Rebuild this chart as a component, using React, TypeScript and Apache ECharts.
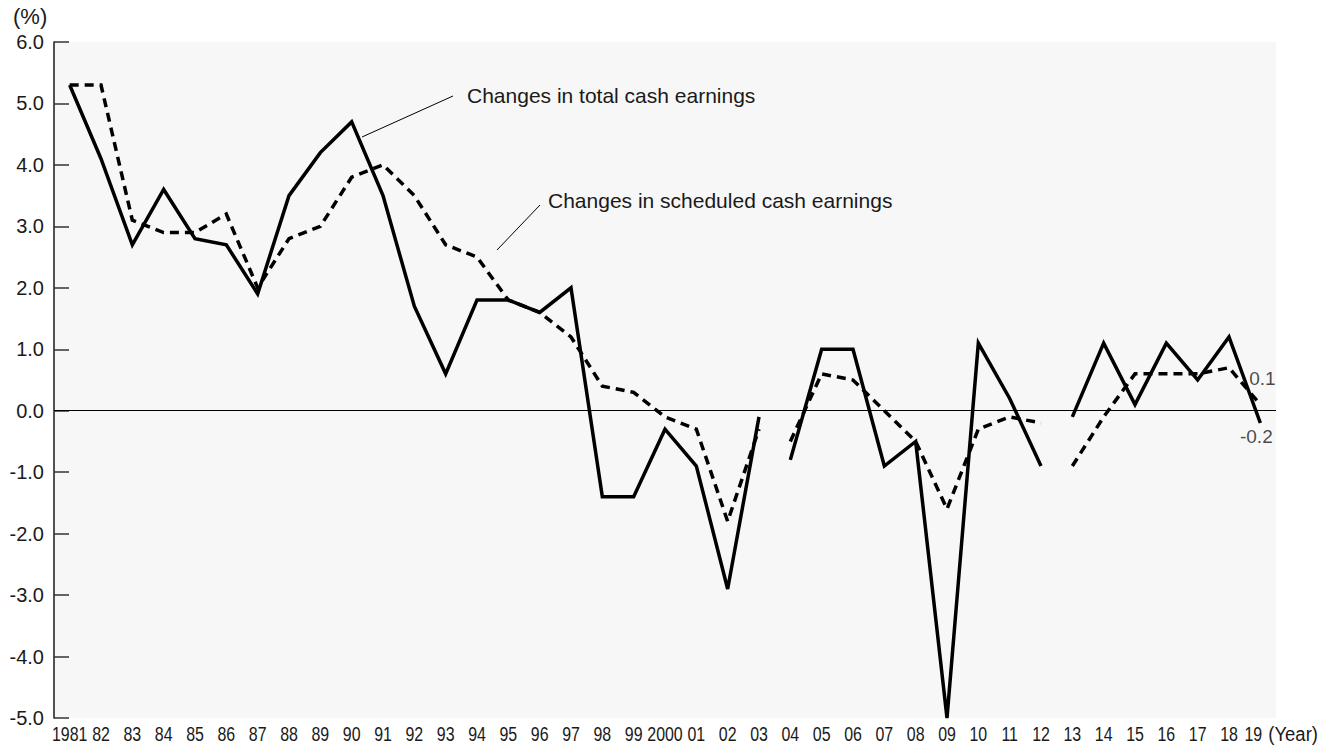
import React, { useEffect, useRef } from "react";
import * as echarts from "echarts";

// Category (tick) labels, 1981–2019
const years = [
  "1981", "82", "83", "84", "85", "86", "87", "88", "89", "90",
  "91", "92", "93", "94", "95", "96", "97", "98", "99", "2000",
  "01", "02", "03", "04", "05", "06", "07", "08", "09", "10",
  "11", "12", "13", "14", "15", "16", "17", "18", "19",
];

// Changes in total cash earnings (%)
const totalCashEarnings = [
  5.3, 4.1, 2.7, 3.6, 2.8, 2.7, 1.9, 3.5, 4.2, 4.7,
  3.5, 1.7, 0.6, 1.8, 1.8, 1.6, 2.0, -1.4, -1.4, -0.3,
  -0.9, -2.9, -0.1, -0.8, 1.0, 1.0, -0.9, -0.5, -5.0, 1.1,
  0.2, -0.9, -0.1, 1.1, 0.1, 1.1, 0.5, 1.2, -0.2,
];

// Changes in scheduled cash earnings (%)
const scheduledCashEarnings = [
  5.3, 5.3, 3.1, 2.9, 2.9, 3.2, 2.0, 2.8, 3.0, 3.8,
  4.0, 3.5, 2.7, 2.5, 1.8, 1.6, 1.2, 0.4, 0.3, -0.1,
  -0.3, -1.8, -0.3, -0.5, 0.6, 0.5, 0.0, -0.5, -1.6, -0.3,
  -0.1, -0.2, -0.9, -0.1, 0.6, 0.6, 0.6, 0.7, 0.1,
];

// The series are broken (not connected) after these years
const gapsAfter = ["03", "12"];

const yMin = -5;
const yMax = 6;
const yInterval = 1;

const TEXT = "#1a1a1a";
const SANS = "'Liberation Sans', Arial, Helvetica, sans-serif";
const NARROW_SCALE = 0.76;

function segmentRanges(): [number, number][] {
  const cuts = gapsAfter.map((g) => years.indexOf(g));
  const ranges: [number, number][] = [];
  let start = 0;
  cuts.forEach((c) => {
    ranges.push([start, c]);
    start = c + 1;
  });
  ranges.push([start, years.length - 1]);
  return ranges;
}

function buildSegments(values: number[], name: string, dashed: boolean) {
  return segmentRanges().map(([a, b], idx) => ({
    name: name,
    id: name + "-" + idx,
    type: "line",
    data: values.map((v, i) => (i >= a && i <= b ? v : "-")),
    showSymbol: false,
    symbol: "none",
    connectNulls: false,
    z: dashed ? 3 : 4,
    lineStyle: {
      color: "#000",
      width: 3.5,
      type: dashed ? [9, 6] : "solid",
      join: "miter",
      cap: "butt",
    },
    emphasis: { disabled: true },
  }));
}

export default function App() {
  const ref = useRef<HTMLDivElement>(null);

  useEffect(() => {
    if (!ref.current) return;
    const chart = echarts.init(ref.current, undefined, { renderer: "svg" });
    const last = years.length - 1;

    const option: any = {
      animation: false,
      grid: {
        left: 54,
        right: 62,
        top: 42,
        bottom: 28,
        show: true,
        backgroundColor: "#f7f7f7",
        borderWidth: 0,
      },
      xAxis: {
        type: "category",
        data: years,
        boundaryGap: true,
        axisLine: { show: false },
        axisTick: { show: false },
        splitLine: { show: false },
        axisLabel: { show: false },
      },
      yAxis: {
        type: "value",
        min: yMin,
        max: yMax,
        interval: yInterval,
        axisLine: { show: true, lineStyle: { color: TEXT, width: 1.5 } },
        axisTick: { show: true, inside: true, length: 15, lineStyle: { color: "#333", width: 1.5 } },
        splitLine: { show: false },
        axisLabel: {
          formatter: (v: number) => v.toFixed(1),
          fontFamily: SANS,
          fontSize: 20,
          color: TEXT,
          margin: 10,
        },
      },
      series: [
        {
          type: "line",
          data: [],
          silent: true,
          markLine: {
            silent: true,
            symbol: "none",
            label: { show: false },
            lineStyle: { color: "#000", width: 1, type: "solid" },
            data: [{ yAxis: 0 }],
          },
        },
        ...buildSegments(scheduledCashEarnings, "Changes in scheduled cash earnings", true),
        ...buildSegments(totalCashEarnings, "Changes in total cash earnings", false),
        {
          // condensed category labels, placed through the category scale
          type: "custom",
          silent: true,
          clip: false,
          data: years.map((_, i) => [i, yMin]),
          renderItem: (params: any, api: any) => {
            const i = api.value(0);
            const pt = api.coord([i, yMin]);
            const isLast = i === years.length - 1;
            const children: any[] = [
              {
                type: "text",
                x: pt[0] - (isLast ? 7 : 0),
                y: pt[1] + 16,
                scaleX: NARROW_SCALE,
                style: {
                  text: years[i],
                  font: "21px " + SANS,
                  fill: TEXT,
                  align: "center",
                  verticalAlign: "middle",
                },
              },
            ];
            if (isLast) {
              children.push({
                type: "text",
                x: pt[0] + 8,
                y: pt[1] + 16,
                scaleX: 0.88,
                style: {
                  text: "(Year)",
                  font: "21px " + SANS,
                  fill: TEXT,
                  align: "left",
                  verticalAlign: "middle",
                },
              });
            }
            return { type: "group", children };
          },
        },
        {
          type: "scatter",
          symbolSize: 1,
          itemStyle: { color: "rgba(0,0,0,0)" },
          z: 2,
          data: [
            {
              value: [years[last], scheduledCashEarnings[last]],
              label: {
                show: true,
                position: "top",
                offset: [2, -11],
                formatter: () => scheduledCashEarnings[last].toFixed(1),
                fontFamily: SANS,
                fontSize: 19,
                color: TEXT,
              },
            },
            {
              value: [years[last], totalCashEarnings[last]],
              label: {
                show: true,
                position: "bottom",
                offset: [-4, -2],
                formatter: () => totalCashEarnings[last].toFixed(1),
                fontFamily: SANS,
                fontSize: 19,
                color: TEXT,
              },
            },
          ],
        },
      ],
      graphic: [
        {
          type: "text",
          x: 13,
          y: 16,
          style: { text: "(%)", font: "22px " + SANS, fill: TEXT, verticalAlign: "middle" },
        },
        {
          type: "line",
          shape: { x1: 362, y1: 137, x2: 453, y2: 96 },
          style: { stroke: "#000", lineWidth: 1 },
        },
        {
          type: "text",
          x: 467,
          y: 95,
          style: {
            text: "Changes in total cash earnings",
            font: "21px " + SANS,
            fill: TEXT,
            verticalAlign: "middle",
          },
        },
        {
          type: "line",
          shape: { x1: 497, y1: 250, x2: 540, y2: 205 },
          style: { stroke: "#000", lineWidth: 1 },
        },
        {
          type: "text",
          x: 548,
          y: 200,
          style: {
            text: "Changes in scheduled cash earnings",
            font: "21px " + SANS,
            fill: TEXT,
            verticalAlign: "middle",
          },
        },
      ],
    };

    chart.setOption(option);
    return () => chart.dispose();
  }, []);

  return (
    <div
      ref={ref}
      style={{ position: "fixed", left: 0, top: 0, width: 1338, height: 746, background: "#fff" }}
    />
  );
}
